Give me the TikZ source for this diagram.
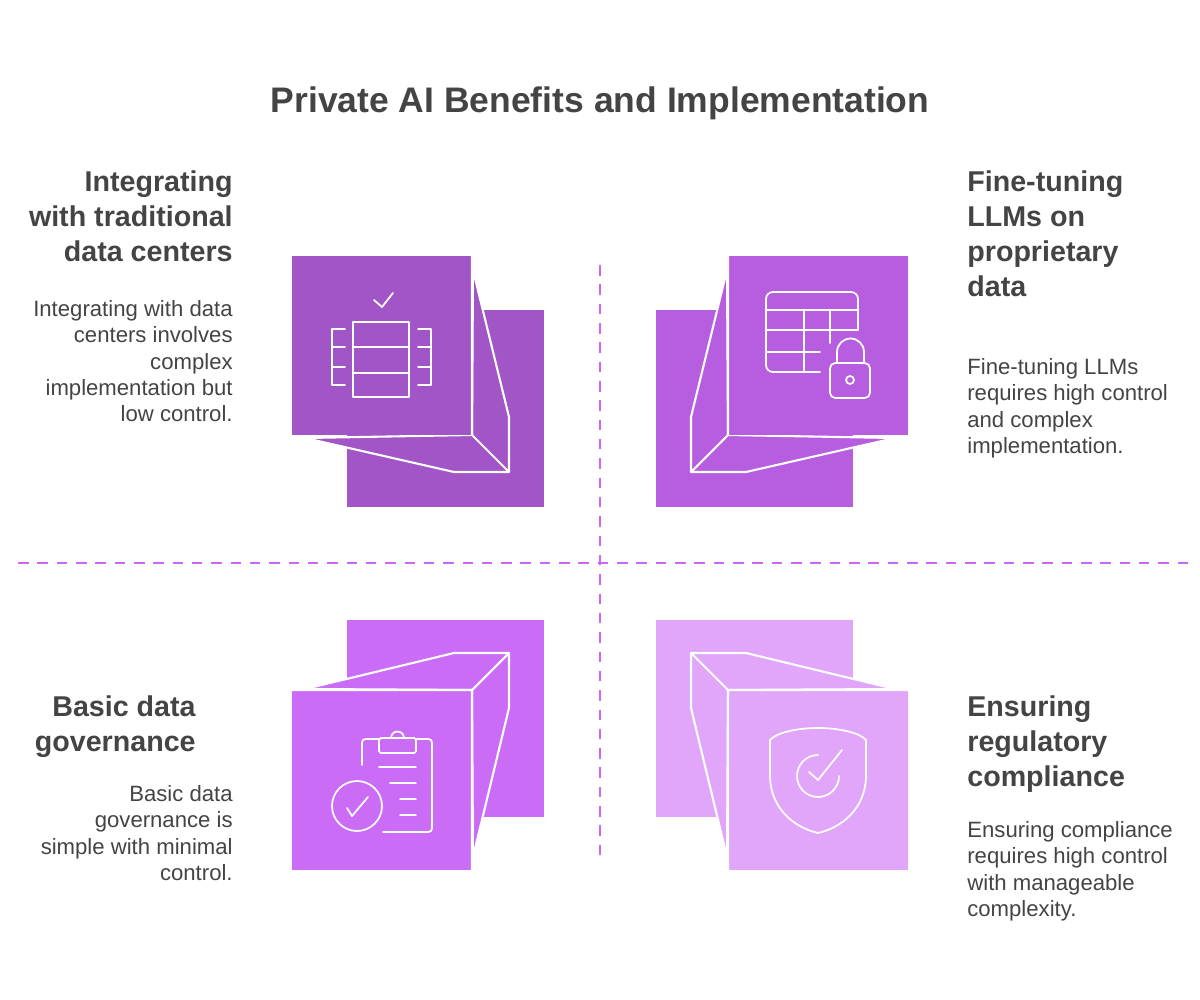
\documentclass[tikz,border=0pt]{standalone}
\usepackage{fontspec}
\setmainfont{Liberation Sans}
\usetikzlibrary{positioning}
\definecolor{ink}{RGB}{68,68,68}
\definecolor{plumA}{RGB}{161,85,199}
\definecolor{plumB}{RGB}{183,93,224}
\definecolor{plumC}{RGB}{203,108,246}
\definecolor{plumD}{RGB}{225,165,250}
\definecolor{dashc}{RGB}{204,102,245}
\tikzset{
    heading/.style={font=\fontsize{16.3}{20}\selectfont\bfseries, text=ink, inner sep=0pt},
    body/.style={font=\fontsize{12.6}{15}\selectfont, text=ink, inner sep=0pt},
    face/.style={draw=white, line width=1.2pt, line join=round},
    icon/.style={draw=white, line width=1pt, line cap=round, line join=round},
    divider/.style={draw=dashc, line width=1.3pt, dash pattern=on 6pt off 5pt}
}
\begin{document}
\begin{tikzpicture}[x=0.02cm,y=-0.02cm]
    \useasboundingbox[fill=white] (0,0) rectangle (1200,1000);

    % Title
    \node[font=\fontsize{20.2}{25}\selectfont\bfseries, text=ink] (title) at (600,103) {Private AI Benefits and Implementation};

    % Dividers
    \draw[divider] (18,563) -- (1190,563);
    \draw[divider] (600,265) -- (600,860);

    % Top left block
    \fill[plumA] (347,310) rectangle (544,507);
    \filldraw[plumA, face] (473,270) -- (509,417) -- (509,472) -- (454,472) -- (305,438) -- (472,435) -- cycle;
    \fill[plumA] (292,256) rectangle (472,435);
    \draw[face] (472,256) -- (472,435) -- (509,472);
    \draw[icon] (374,300) -- (382,307) -- (393,293);
    \draw[icon] (353,322) rectangle (409,397) (353,347) -- (409,347) (353,373) -- (409,373);
    \draw[icon] (345,329) -- (332,329) -- (332,385) -- (345,385) (332,347) -- (345,347) (332,367) -- (345,367);
    \draw[icon] (418,329) -- (431,329) -- (431,385) -- (418,385) (431,347) -- (418,347) (431,367) -- (418,367);

    % Top right block
    \fill[plumB] (656,310) rectangle (853,507);
    \filldraw[plumB, face] (727,270) -- (691,417) -- (691,472) -- (746,472) -- (895,438) -- (728,435) -- cycle;
    \fill[plumB] (728,256) rectangle (908,435);
    \draw[face] (728,256) -- (728,435) -- (691,472);
    \draw[icon, rounded corners=4pt] (820,372) -- (766,372) -- (766,292) -- (858,292) -- (858,330);
    \draw[icon] (766,310) -- (858,310) (766,330) -- (858,330) (766,352) -- (820,352) (804,310) -- (804,372) (830,310) -- (830,343);
    \draw[icon, rounded corners=3pt] (830,363) rectangle (870,398);
    \draw[icon] (837,363) -- (837,352) arc[start angle=180, end angle=360, radius=13.5] -- (864,363);
    \draw[icon] (850,380) circle[radius=4];

    % Bottom left block
    \fill[plumC] (347,620) rectangle (544,817);
    \filldraw[plumC, face] (454,653) -- (509,653) -- (509,708) -- (473,857) -- (472,690) -- (305,689) -- cycle;
    \fill[plumC] (292,690) rectangle (472,870);
    \draw[face] (292,690) -- (472,690) -- (472,870) (472,690) -- (509,653);
    \draw[icon, rounded corners=2pt] (362,765) -- (362,739) -- (432,739) -- (432,832) -- (383,832);
    \draw[icon, fill=plumC, rounded corners=1pt] (379,738) rectangle (416,753);
    \draw[icon] (391,738) arc[start angle=180, end angle=360, radius=6.5];
    \draw[icon] (379,767) -- (416,767) (390,783) -- (416,783) (400,799) -- (416,799) (400,815) -- (416,815);
    \draw[icon] (357,806) circle[radius=25];
    \draw[icon] (347,808) -- (352,816) -- (368,797);

    % Bottom right block
    \fill[plumD] (656,620) rectangle (853,817);
    \filldraw[plumD, face] (746,653) -- (691,653) -- (691,708) -- (727,857) -- (728,690) -- (895,689) -- cycle;
    \fill[plumD] (728,690) rectangle (908,870);
    \draw[face] (908,690) -- (728,690) -- (728,870) (728,690) -- (691,653);
    \draw[icon] (818,728) .. controls (840,728) and (860,733) .. (866,740) -- (866,775)
        .. controls (866,810) and (840,828) .. (818,833)
        .. controls (796,828) and (770,810) .. (770,775) -- (770,740)
        .. controls (776,733) and (796,728) .. (818,728);
    \draw[icon] (818,755) arc[start angle=-90, end angle=-360, radius=21];
    \draw[icon] (809,772) -- (818,780) -- (842,750);

    % Texts
    \node[heading, align=right, anchor=north east] (headA) at (233,170) {Integrating\\with traditional\\data centers};
    \node[body, align=right, anchor=north east] (bodyA) at (233,300) {Integrating with data\\centers involves\\complex\\implementation but\\low control.};
    \node[heading, align=left, anchor=north west] (headB) at (967,170) {Fine-tuning\\LLMs on\\proprietary\\data};
    \node[body, align=left, anchor=north west] (bodyB) at (967,358) {Fine-tuning LLMs\\requires high control\\and complex\\implementation.};
    \node[heading, align=right, anchor=north east] (headC) at (196,695) {Basic data\\governance};
    \node[body, align=right, anchor=north east] (bodyC) at (233,785) {Basic data\\governance is\\simple with minimal\\control.};
    \node[heading, align=left, anchor=north west] (headD) at (967,695) {Ensuring\\regulatory\\compliance};
    \node[body, align=left, anchor=north west] (bodyD) at (967,821) {Ensuring compliance\\requires high control\\with manageable\\complexity.};
\end{tikzpicture}
\end{document}
